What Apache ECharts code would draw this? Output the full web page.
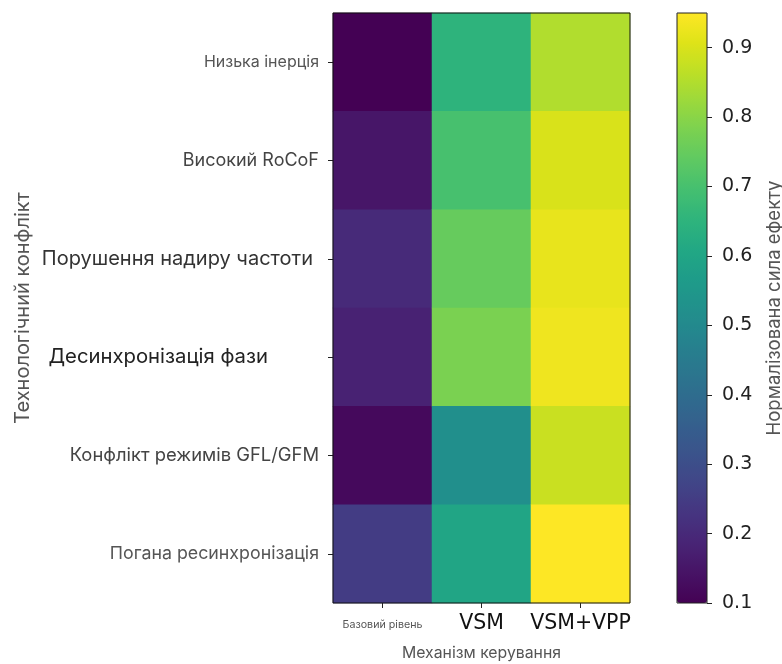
<!DOCTYPE html>
<html>
<head>
<meta charset="utf-8">
<script src="https://cdn.jsdelivr.net/npm/echarts@6/dist/echarts.min.js"></script>
<style>
  html, body { margin: 0; padding: 0; background: #fff; }
  #chart { width: 782px; height: 664px; }
</style>
</head>
<body>
<div id="chart"></div>
<script>
// Control mechanisms (columns) and technology conflicts (rows, top to bottom)
const mechanisms = ['Базовий рівень', 'VSM', 'VSM+VPP'];
const conflicts = [
  'Низька інерція',
  'Високий RoCoF',
  'Порушення надиру частоти',
  'Десинхронізація фази',
  'Конфлікт режимів GFL/GFM',
  'Погана ресинхронізація'
];

// Normalised effect strength per mechanism, one value per conflict row
const baseline = [0.10, 0.15, 0.20, 0.18, 0.12, 0.25];
const vsm      = [0.65, 0.70, 0.75, 0.78, 0.52, 0.60];
const vsmVpp   = [0.85, 0.90, 0.92, 0.93, 0.88, 0.95];

// Colour scale range and colour bar ticks
const scaleMin = 0.1;
const scaleMax = 0.95;
const colorbarTicks = [0.1, 0.2, 0.3, 0.4, 0.5, 0.6, 0.7, 0.8, 0.9];

const viridis = ['#440154', '#471365', '#482475', '#463480', '#414487', '#3b528b', '#355f8d',
  '#2f6c8e', '#2a788e', '#25848e', '#21918c', '#1e9c89', '#22a884', '#2fb47c', '#44bf70',
  '#5ec962', '#7ad151', '#9bd93c', '#bddf26', '#dfe318', '#fde725'];

const columns = [baseline, vsm, vsmVpp];
const cells = [];
columns.forEach((col, xi) => col.forEach((v, yi) => cells.push([xi, yi, v])));

// Per-row label styling for the conflict axis
const rowStyles = [
  { fontSize: 16, color: '#555' },
  { fontSize: 18, color: '#444' },
  { fontSize: 20, color: '#333', padding: [0, 6, 0, 0] },
  { fontSize: 20.3, color: '#222', padding: [0, 51, 0, 0] },
  { fontSize: 18.4, color: '#444' },
  { fontSize: 17.8, color: '#555' }
];
const rowRich = {};
rowStyles.forEach((s, i) => {
  rowRich['r' + i] = Object.assign({ fontFamily: 'Inter' }, s);
});

const colRich = {
  c0: { fontSize: 10.7, color: '#555', fontFamily: 'Inter', padding: [6, 0, 0, 0] },
  c1: { fontSize: 20.5, color: '#111', fontFamily: 'DejaVu Sans' },
  c2: { fontSize: 20.5, color: '#111', fontFamily: 'DejaVu Sans' }
};

const chart = echarts.init(document.getElementById('chart'), null, { renderer: 'canvas' });

chart.setOption({
  animation: false,
  backgroundColor: '#fff',
  grid: [
    { left: 333, top: 13, width: 297, height: 590, show: true, z: 5,
      outerBoundsMode: 'none', containLabel: false,
      backgroundColor: 'transparent', borderColor: '#111', borderWidth: 1 },
    { left: 677, top: 13, width: 30, height: 590, show: true, z: 5,
      outerBoundsMode: 'none', containLabel: false,
      backgroundColor: 'transparent', borderColor: '#222', borderWidth: 1 }
  ],
  xAxis: [
    {
      gridIndex: 0, type: 'category', data: mechanisms, position: 'bottom',
      axisLine: { show: false },
      axisTick: { show: true, alignWithLabel: true, length: 5, lineStyle: { color: '#222' } },
      splitLine: { show: false },
      axisLabel: {
        margin: 10, interval: 0,
        formatter: (v, i) => '{c' + i + '|' + v + '}',
        rich: colRich
      },
      name: 'Механізм керування', nameLocation: 'middle', nameGap: 42,
      nameTextStyle: { fontSize: 15.8, color: '#555', fontFamily: 'Inter' }
    },
    {
      gridIndex: 1, type: 'category', data: [''], show: false
    }
  ],
  yAxis: [
    {
      gridIndex: 0, type: 'category', data: conflicts, inverse: true,
      axisLine: { show: false },
      axisTick: { show: true, alignWithLabel: true, length: 5, lineStyle: { color: '#222' } },
      splitLine: { show: false },
      axisLabel: {
        margin: 14, interval: 0,
        formatter: (v, i) => '{r' + i + '|' + v + '}',
        rich: rowRich
      },
      name: 'Технологічний конфлікт', nameLocation: 'middle', nameGap: 300, nameRotate: 90,
      nameTextStyle: { fontSize: 20, color: '#555', fontFamily: 'Inter' }
    },
    {
      gridIndex: 1, type: 'value', min: scaleMin, max: scaleMax, position: 'right',
      axisLine: { show: false },
      splitLine: { show: false },
      axisTick: { show: true, length: 5, customValues: colorbarTicks, lineStyle: { color: '#222' } },
      axisLabel: {
        margin: 15, customValues: colorbarTicks, fontSize: 19, color: '#222',
        fontFamily: 'DejaVu Sans', formatter: v => v.toFixed(1)
      },
      name: 'Нормалізована сила ефекту', nameLocation: 'middle', nameGap: 58, nameRotate: 90,
      nameTextStyle: { fontSize: 18.5, color: '#555', fontFamily: 'Inter' }
    }
  ],
  visualMap: {
    type: 'continuous',
    min: scaleMin, max: scaleMax,
    calculable: false, hoverLink: false,
    seriesIndex: 0,
    orient: 'vertical',
    left: 677, top: 13,
    itemWidth: 30, itemHeight: 590,
    padding: 0,
    text: ['', ''],
    showLabel: false,
    inRange: { color: viridis }
  },
  series: [{
    type: 'heatmap',
    xAxisIndex: 0, yAxisIndex: 0,
    data: cells,
    itemStyle: { borderWidth: 0 },
    emphasis: { disabled: true }
  }]
});
</script>
</body>
</html>
